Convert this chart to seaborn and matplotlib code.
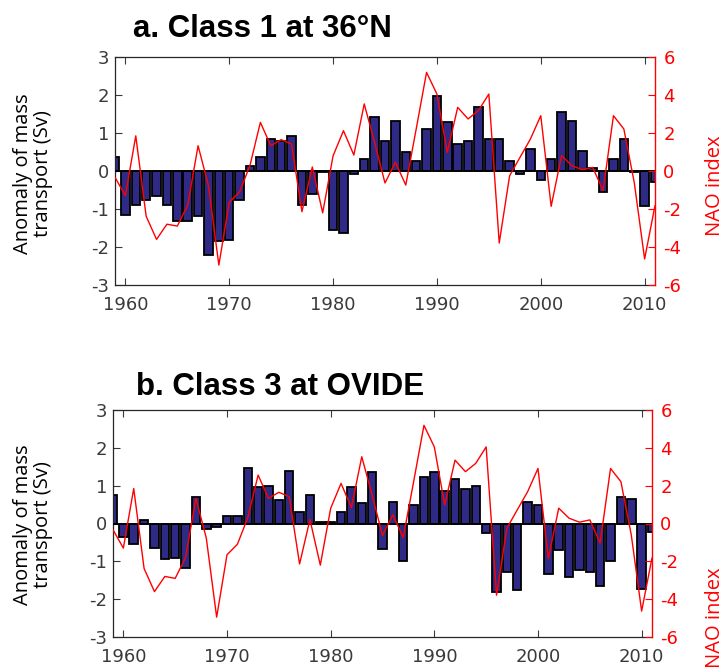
import numpy as np
import pandas as pd
import matplotlib
matplotlib.use("Agg")
import matplotlib.pyplot as plt
import seaborn as sns

years = list(range(1959, 2012))

class1_36N = [0.36, -1.15, -0.89, -0.75, -0.65, -0.89, -1.32, -1.32, -1.19, -2.2,
              -1.84, -1.81, -0.75, 0.14, 0.36, 0.85, 0.8, 0.93, -0.89, -0.61,
              -0.03, -1.54, -1.63, -0.09, 0.32, 1.41, 0.8, 1.32, 0.49, 0.27,
              1.1, 1.98, 1.28, 0.71, 0.8, 1.68, 0.84, 0.84, 0.27, -0.09,
              0.58, -0.23, 0.32, 1.54, 1.32, 0.53, 0.07, -0.54, 0.32, 0.84,
              -0.03, -0.93, -0.3]

class3_ovide = [0.76, -0.36, -0.55, 0.09, -0.64, -0.95, -0.9, -1.17, 0.71, -0.14,
                -0.1, 0.21, 0.21, 1.46, 0.97, 1.0, 0.61, 1.4, 0.3, 0.76,
                0.04, 0.04, 0.3, 0.97, 0.53, 1.36, -0.67, 0.56, -0.98, 0.48,
                1.23, 1.36, 0.87, 1.18, 0.9, 1.0, -0.25, -1.82, -1.29, -1.77,
                0.56, 0.48, -1.33, -0.71, -1.42, -1.24, -1.29, -1.64, -1.0, 0.7,
                0.64, -1.73, -0.23]

nao_index = [-0.33, -1.3, 1.85, -2.38, -3.6, -2.8, -2.9, -1.8, 1.33, -0.77,
             -4.95, -1.65, -1.1, 0.3, 2.56, 1.33, 1.65, 1.42, -2.14, 0.21,
             -2.2, 0.8, 2.12, 0.84, 3.53, 1.5, -0.63, 0.46, -0.74, 2.2,
             5.19, 4.05, 0.98, 3.35, 2.74, 3.18, 4.05, -3.79, -0.25, 0.72,
             1.68, 2.91, -1.86, 0.81, 0.28, 0.07, 0.19, -1.03, 2.91, 2.21,
             -0.6, -4.63, -1.82]

titles = ["a. Class 1 at 36°N", "b. Class 3 at OVIDE"]
left_ticks = [-3, -2, -1, 0, 1, 2, 3]
right_ticks = [-6, -4, -2, 0, 2, 4, 6]
x_ticks = [1960, 1970, 1980, 1990, 2000, 2010]

sns.set_theme(style="white")
plt.rcParams["font.family"] = ["DejaVu Sans"]
plt.rcParams["axes.unicode_minus"] = False

W, H = 726, 672
fig = plt.figure(figsize=(W / 100, H / 100), dpi=100)

bar_color = "#2f2a85"
tick_col = "#3a3a3a"

# axes boxes in pixel coords: left, top, right, bottom
boxes = [(115, 57, 655, 285), (113, 410, 652, 637)]
title_pos = [(133, 37), (136, 395)]
nao_label_y = [186, 618]
left_label_y = [174, 525]

for i, (vals, title) in enumerate(zip([class1_36N, class3_ovide], titles)):
    l, t, r, b = boxes[i]
    ax = fig.add_axes([l / W, 1 - b / H, (r - l) / W, (b - t) / H])
    df = pd.DataFrame({"year": years, "value": vals})
    sns.barplot(data=df, x="year", y="value", native_scale=True, width=0.82,
                color=bar_color, saturation=1, edgecolor="black", linewidth=1.3,
                ax=ax, zorder=2)
    ax.axhline(0, color="black", lw=1.1, zorder=3)
    ax.set_xlim(1959, 2011)
    ax.set_ylim(-3, 3)
    ax.set_yticks(left_ticks)
    ax.set_xticks(x_ticks)
    ax.set_xticklabels([str(x) for x in x_ticks])
    ax.set_xlabel("")
    ax.set_ylabel("")
    ax.tick_params(axis="both", direction="in", length=5, width=0.8,
                   colors=tick_col, labelsize=13, top=True, left=True,
                   bottom=True, right=False)
    ax.tick_params(axis="y", pad=4)
    ax.tick_params(axis="x", pad=8)
    for s in ["top", "left", "bottom"]:
        ax.spines[s].set_color("#262626")
        ax.spines[s].set_linewidth(0.9)
    ax.spines["right"].set_visible(False)

    ax2 = ax.twinx()
    ndf = pd.DataFrame({"year": years, "nao": nao_index})
    sns.lineplot(data=ndf, x="year", y="nao", color="red", lw=1.0, ax=ax2,
                 zorder=5)
    ax2.set_ylim(-6, 6)
    ax2.set_yticks(right_ticks)
    ax2.set_xlim(1959, 2011)
    ax2.set_ylabel("")
    ax2.set_xlabel("")
    ax2.tick_params(axis="y", direction="in", length=5, width=0.8,
                    colors="red", labelsize=13, pad=6)
    for s in ["top", "left", "bottom"]:
        ax2.spines[s].set_visible(False)
    ax2.spines["right"].set_color("red")
    ax2.spines["right"].set_linewidth(1.0)

    tx, ty = title_pos[i]
    fig.text(tx / W, 1 - ty / H, title, ha="left", va="baseline",
             fontsize=22.5, fontweight="bold", family="Liberation Sans",
             color="black")
    fig.text(33 / W, 1 - left_label_y[i] / H, "Anomaly of mass\ntransport (Sv)",
             rotation=90, ha="center", va="center", fontsize=14.5,
             family="Open Sans", color="black", linespacing=1.0)
    fig.text(715 / W, 1 - nao_label_y[i] / H, "NAO index", rotation=90,
             ha="center", va="center", fontsize=14.5, family="Open Sans",
             color="red")

fig.savefig("out.png", dpi=100)
